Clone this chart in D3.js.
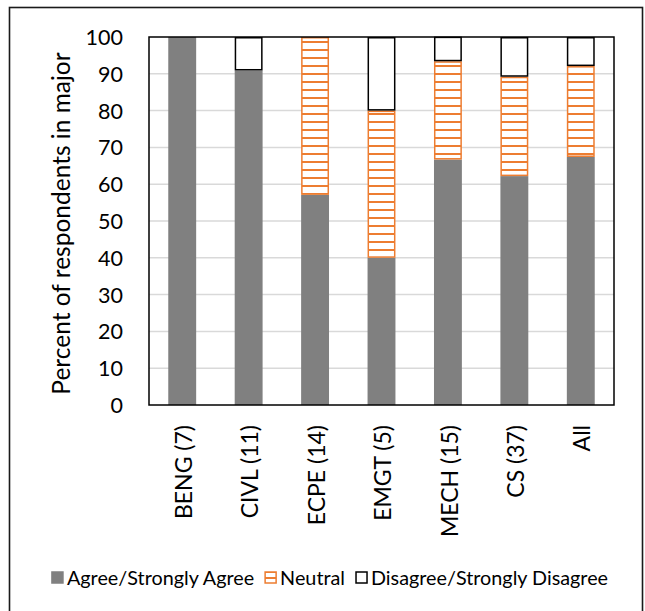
<!DOCTYPE html>
<html>
<head>
<meta charset="utf-8">
<script src="https://cdn.jsdelivr.net/npm/d3@7"></script>
<style>
  html, body { margin: 0; padding: 0; background: #fff; }
  svg { display: block; }
  text { font-family: Lato, "Open Sans", sans-serif; fill: #000; }
</style>
</head>
<body>
<svg id="chart" width="645" height="611"></svg>
<script>
// Majors surveyed (respondent count in brackets)
const categories = ["BENG (7)", "CIVL (11)", "ECPE (14)", "EMGT (5)", "MECH (15)", "CS (37)", "All"];
// Percent of respondents in each major, per response group
const agree    = [100, 90.9, 57.1, 40, 66.7, 62.2, 67.4];
const neutral  = [0, 0, 42.9, 40, 26.7, 27.0, 24.7];
const disagree = [0, 9.1, 0, 20, 6.7, 10.8, 7.9];
const seriesNames = ["Agree/Strongly Agree", "Neutral", "Disagree/Strongly Disagree"];
const yTicks = [0, 10, 20, 30, 40, 50, 60, 70, 80, 90, 100];

const svg = d3.select("#chart");
const plot = { left: 149, right: 614, top: 37, bottom: 405 };
const orange = "#ED7D31", grey = "#808080";
const FONT = "Lato, 'Open Sans', sans-serif";

// chart frame
svg.append("rect").attr("x", 9.5).attr("y", 7.5).attr("width", 633).attr("height", 620)
  .attr("fill", "#fff").attr("stroke", "#1a1a1a").attr("stroke-width", 1.6);

// horizontal hatch for the neutral group
const defs = svg.append("defs");
const pat = defs.append("pattern").attr("id", "hatch")
  .attr("patternUnits", "userSpaceOnUse").attr("width", 8).attr("height", 8)
  .attr("y", plot.top + 4);
pat.append("rect").attr("width", 8).attr("height", 8).attr("fill", "#fff");
pat.append("rect").attr("y", 0).attr("width", 8).attr("height", 2).attr("fill", orange);

const x = d3.scaleBand().domain(categories).range([plot.left, plot.right]).paddingInner(0.58).paddingOuter(0.29);
const y = d3.scaleLinear().domain([0, 100]).range([plot.bottom, plot.top]);

// gridlines
svg.append("g").selectAll("line").data(yTicks.filter(t => t > 0 && t < 100)).join("line")
  .attr("x1", plot.left).attr("x2", plot.right)
  .attr("y1", d => y(d)).attr("y2", d => y(d))
  .attr("stroke", "#d9d9d9").attr("stroke-width", 1.5);

// stacked bars
const rows = categories.map((c, i) => ({ c, a: agree[i], n: neutral[i], d: disagree[i] }));
const bars = svg.append("g");
bars.selectAll("rect.agree").data(rows).join("rect").attr("class", "agree")
  .attr("x", d => x(d.c)).attr("width", x.bandwidth())
  .attr("y", d => y(d.a)).attr("height", d => y(0) - y(d.a))
  .attr("fill", grey);
bars.selectAll("rect.neutral").data(rows.filter(d => d.n > 0)).join("rect").attr("class", "neutral")
  .attr("x", d => x(d.c) + 0.75).attr("width", x.bandwidth() - 1.5)
  .attr("y", d => y(d.a + d.n) + 0.75).attr("height", d => y(d.a) - y(d.a + d.n) - 1.5)
  .attr("fill", "url(#hatch)").attr("stroke", orange).attr("stroke-width", 1.5);
bars.selectAll("rect.disagree").data(rows.filter(d => d.d > 0)).join("rect").attr("class", "disagree")
  .attr("x", d => x(d.c) + 0.75).attr("width", x.bandwidth() - 1.5)
  .attr("y", d => y(d.a + d.n + d.d) + 0.75).attr("height", d => y(d.a + d.n) - y(d.a + d.n + d.d) - 1.5)
  .attr("fill", "#fff").attr("stroke", "#000").attr("stroke-width", 1.5);

// plot border
svg.append("rect").attr("x", plot.left).attr("y", plot.top)
  .attr("width", plot.right - plot.left).attr("height", plot.bottom - plot.top)
  .attr("fill", "none").attr("stroke", "#000").attr("stroke-width", 1.5);

// y axis labels
const yAxis = svg.append("g").attr("transform", `translate(${plot.left - 26},0)`)
  .call(d3.axisLeft(y).tickValues(yTicks).tickSize(0).tickPadding(0));
yAxis.select(".domain").remove();
yAxis.selectAll("text").attr("font-size", 21.5).attr("dy", "0.35em")
  .attr("font-family", FONT).attr("fill", "#000");

// category labels
const xAxis = svg.append("g").attr("transform", `translate(0,${plot.bottom})`)
  .call(d3.axisBottom(x).tickSize(0).tickPadding(0));
xAxis.select(".domain").remove();
xAxis.selectAll("text")
  .attr("font-size", 23).attr("font-family", FONT).attr("fill", "#000")
  .attr("transform", "rotate(-90)").attr("text-anchor", "end")
  .attr("x", -20).attr("y", 0).attr("dy", "0.42em");

// y axis title
svg.append("text").attr("transform", `translate(61,${(52 + 395) / 2}) rotate(-90)`)
  .attr("text-anchor", "middle").attr("dy", "0.35em").attr("font-size", 24.5)
  .text("Percent of respondents in major");

// legend
const pl = defs.append("pattern").attr("id", "hatchL")
  .attr("patternUnits", "userSpaceOnUse").attr("width", 12).attr("height", 6).attr("y", 572 + 5);
pl.append("rect").attr("width", 12).attr("height", 6).attr("fill", "#fff");
pl.append("rect").attr("width", 12).attr("height", 2).attr("fill", orange);

const swatches = [
  { name: seriesNames[0], fill: grey, stroke: grey },
  { name: seriesNames[1], fill: "url(#hatchL)", stroke: orange },
  { name: seriesNames[2], fill: "#fff", stroke: "#000" }
];
const legend = svg.append("g");
let lx = 0;
const items = legend.selectAll("g").data(swatches).join("g");
items.append("rect").attr("y", 572).attr("width", 11).attr("height", 11)
  .attr("fill", d => d.fill).attr("stroke", d => d.stroke).attr("stroke-width", 1.5);
items.append("text").attr("x", 15).attr("y", 578).attr("dy", "0.35em").attr("font-size", 19.8)
  .text(d => d.name);
items.each(function () {
  const g = d3.select(this);
  g.attr("transform", `translate(${lx},0)`);
  lx += 15 + g.select("text").node().getComputedTextLength() + 11;
});
const total = lx - 11;
legend.attr("transform", `translate(${330 - total / 2},0)`);
</script>
</body>
</html>
